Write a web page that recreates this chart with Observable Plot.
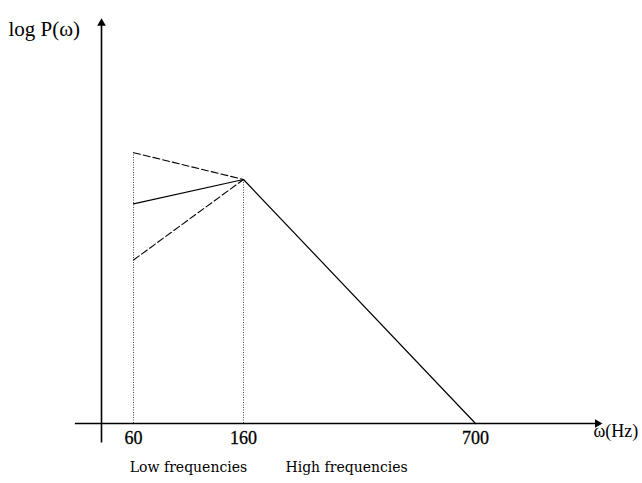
<!DOCTYPE html>
<html><head><meta charset="utf-8">
<script src="https://cdn.jsdelivr.net/npm/d3@7"></script>
<script src="https://cdn.jsdelivr.net/npm/@observablehq/plot@0.6"></script>
<style>body{margin:0;background:#fff}</style>
</head><body><div id="chart"></div>
<script>
const freqTicks = [60, 160, 700];
const solidLine = [{f: 60, p: 9.0}, {f: 160, p: 10}, {f: 700, p: 0}];
const dashedUpper = [{f: 60, p: 11.1}, {f: 160, p: 10}];
const dashedLower = [{f: 60, p: 6.7}, {f: 160, p: 10}];
const dropLines = [{f: 60, p: 11.1}, {f: 160, p: 10}];
const bandLabels = [{f: 110, text: "Low frequencies"}, {f: 400, text: "High frequencies"}];
const xAxisExtent = [-49, 984];
const yAxisExtent = [-0.8, 16.4];

const serif = "'Liberation Serif', 'Times New Roman', serif";

const chart = Plot.plot({
  width: 642,
  height: 483,
  marginTop: 0,
  marginRight: 0,
  marginBottom: 60,
  marginLeft: 0,
  style: {background: "#fff", color: "#000"},
  x: {type: "linear", domain: [0, 60, 160, 700], range: [101, 133, 243, 475], axis: null},
  y: {domain: [0, 10], range: [423, 179], axis: null},
  marks: [
    Plot.ruleX(dropLines, {x: "f", y1: 0, y2: "p", stroke: "#444", strokeWidth: 1, strokeDasharray: "1,1.5"}),
    Plot.ruleY([0], {x1: xAxisExtent[0], x2: xAxisExtent[1], stroke: "#000", strokeWidth: 1.6}),
    Plot.ruleX([0], {y1: yAxisExtent[0], y2: yAxisExtent[1], stroke: "#000", strokeWidth: 1.6}),
    Plot.dot([{f: xAxisExtent[1], p: 0}], {x: "f", y: "p", symbol: "triangle", r: 3.2, fill: "#000", rotate: 90}),
    Plot.dot([{f: 0, p: yAxisExtent[1]}], {x: "f", y: "p", symbol: "triangle", r: 3.2, fill: "#000"}),
    Plot.line(dashedUpper, {x: "f", y: "p", stroke: "#000", strokeWidth: 1.1, strokeDasharray: "7,3"}),
    Plot.line(dashedLower, {x: "f", y: "p", stroke: "#000", strokeWidth: 1.1, strokeDasharray: "7,3"}),
    Plot.line(solidLine, {x: "f", y: "p", stroke: "#000", strokeWidth: 1.2}),
    Plot.text(freqTicks, {x: d => d, frameAnchor: "bottom", dy: 20, text: d => String(d), fontSize: 18, fontFamily: serif, fill: "#000", stroke: "#000", strokeWidth: 0.3}),
    Plot.text(bandLabels, {x: "f", frameAnchor: "bottom", dy: 48, text: "text", fontSize: 14, fontFamily: "'DejaVu Serif', serif", fill: "#000"}),
    Plot.text(["log P(ω)"], {frameAnchor: "top-left", dx: 8, dy: 21, textAnchor: "start", fontSize: 21, fontFamily: serif, fill: "#000"}),
    Plot.text(["ω(Hz)"], {frameAnchor: "bottom-right", dx: -49, dy: 13, textAnchor: "start", fontSize: 18, fontFamily: serif, fill: "#000"})
  ]
});
document.getElementById("chart").appendChild(chart);
</script>
</body></html>
